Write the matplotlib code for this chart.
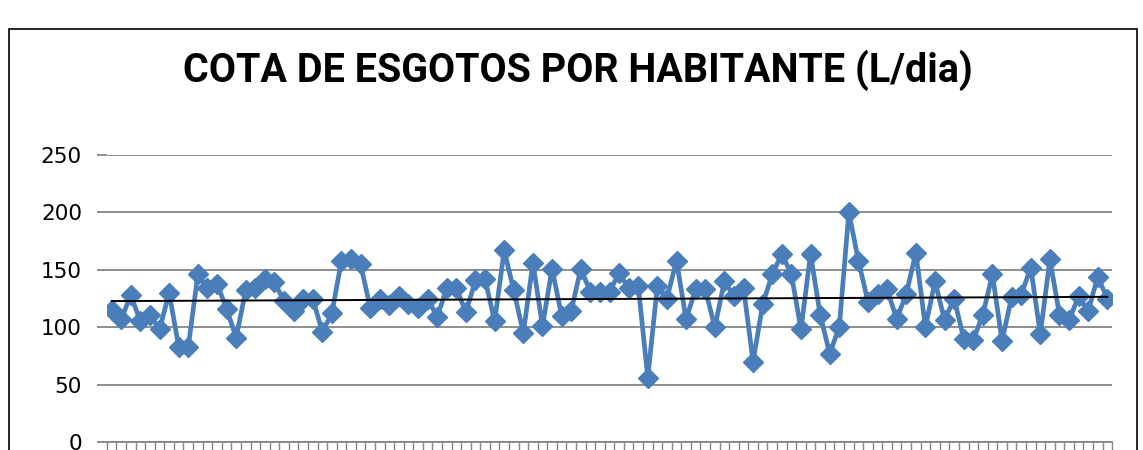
import numpy as np
import matplotlib
matplotlib.use("Agg")
import matplotlib.pyplot as plt
from matplotlib.patches import Rectangle

title = "COTA DE ESGOTOS POR HABITANTE (L/dia)"
y_ticks = [0, 50, 100, 150, 200, 250]
values = [115, 107, 128, 105, 111, 98, 130, 83, 83, 146, 134, 138, 116, 91, 132,
          134, 142, 139, 123, 114, 125, 125, 96, 112, 158, 159, 155, 117, 125, 119,
          127, 120, 117, 125, 109, 134, 134, 113, 141, 142, 105, 167, 132, 95, 156,
          101, 151, 110, 114, 151, 131, 131, 131, 147, 134, 136, 56, 136, 125, 158,
          107, 133, 133, 100, 140, 127, 134, 70, 120, 146, 164, 146, 98, 164, 111, 77,
          100, 200, 158, 122, 129, 133, 107, 129, 165, 100, 140, 106, 125, 90, 89,
          111, 146, 88, 126, 128, 152, 94, 159, 111, 106, 127, 114, 144, 125]
categories = list(range(1, len(values) + 1))

W, H = 1143, 450
fig = plt.figure(figsize=(W / 100, H / 100), dpi=100)

# chart frame
fig.add_artist(Rectangle((9 / W, -0.1), (1137 - 9) / W, (H - 29) / H + 0.1,
                         transform=fig.transFigure, fill=False,
                         edgecolor="black", linewidth=1.2))

ax = fig.add_axes([106.9 / W, 8 / H, (1112.1 - 106.9) / W, (442 - 155) / H])
x = np.array(categories, dtype=float)
y = np.array(values, dtype=float)

ax.plot(x, y, color="#4A7EBB", lw=3.4, marker="D", markersize=10.5,
        markerfacecolor="#4A7EBB", markeredgecolor="#4A7EBB", zorder=3)
coef = np.polyfit(x, y, 1)
ax.plot(x, np.polyval(coef, x), color="black", lw=1.4, zorder=4)

ax.set_xlim(0.5, len(values) + 0.5)
ax.set_ylim(0, 250)
ax.set_yticks(y_ticks)
ax.set_yticklabels([str(t) for t in y_ticks], fontsize=15.5, color="black")
ax.set_xticks(np.arange(0.5, len(values) + 1, 1))
ax.set_xticklabels([])
ax.grid(axis="y", color="#868686", lw=1.3, zorder=0)
ax.tick_params(axis="y", length=7, width=1.3, color="#868686", pad=11)
ax.tick_params(axis="x", length=9, width=1.0, color="#868686")
for s in ["top", "right", "left"]:
    ax.spines[s].set_visible(False)
ax.spines["bottom"].set_color("#868686")
ax.spines["bottom"].set_linewidth(1.3)

t = fig.text(578 / W, 1 - 70 / H, title, ha="center", va="center",
             fontsize=30, fontweight="bold",
             family=["Roboto", "DejaVu Sans"])
# scale title to the reference width (~790 px)
fig.canvas.draw()
w = t.get_window_extent().width
t.set_fontsize(30 * 790 / w)

fig.savefig("out.png", dpi=100)
